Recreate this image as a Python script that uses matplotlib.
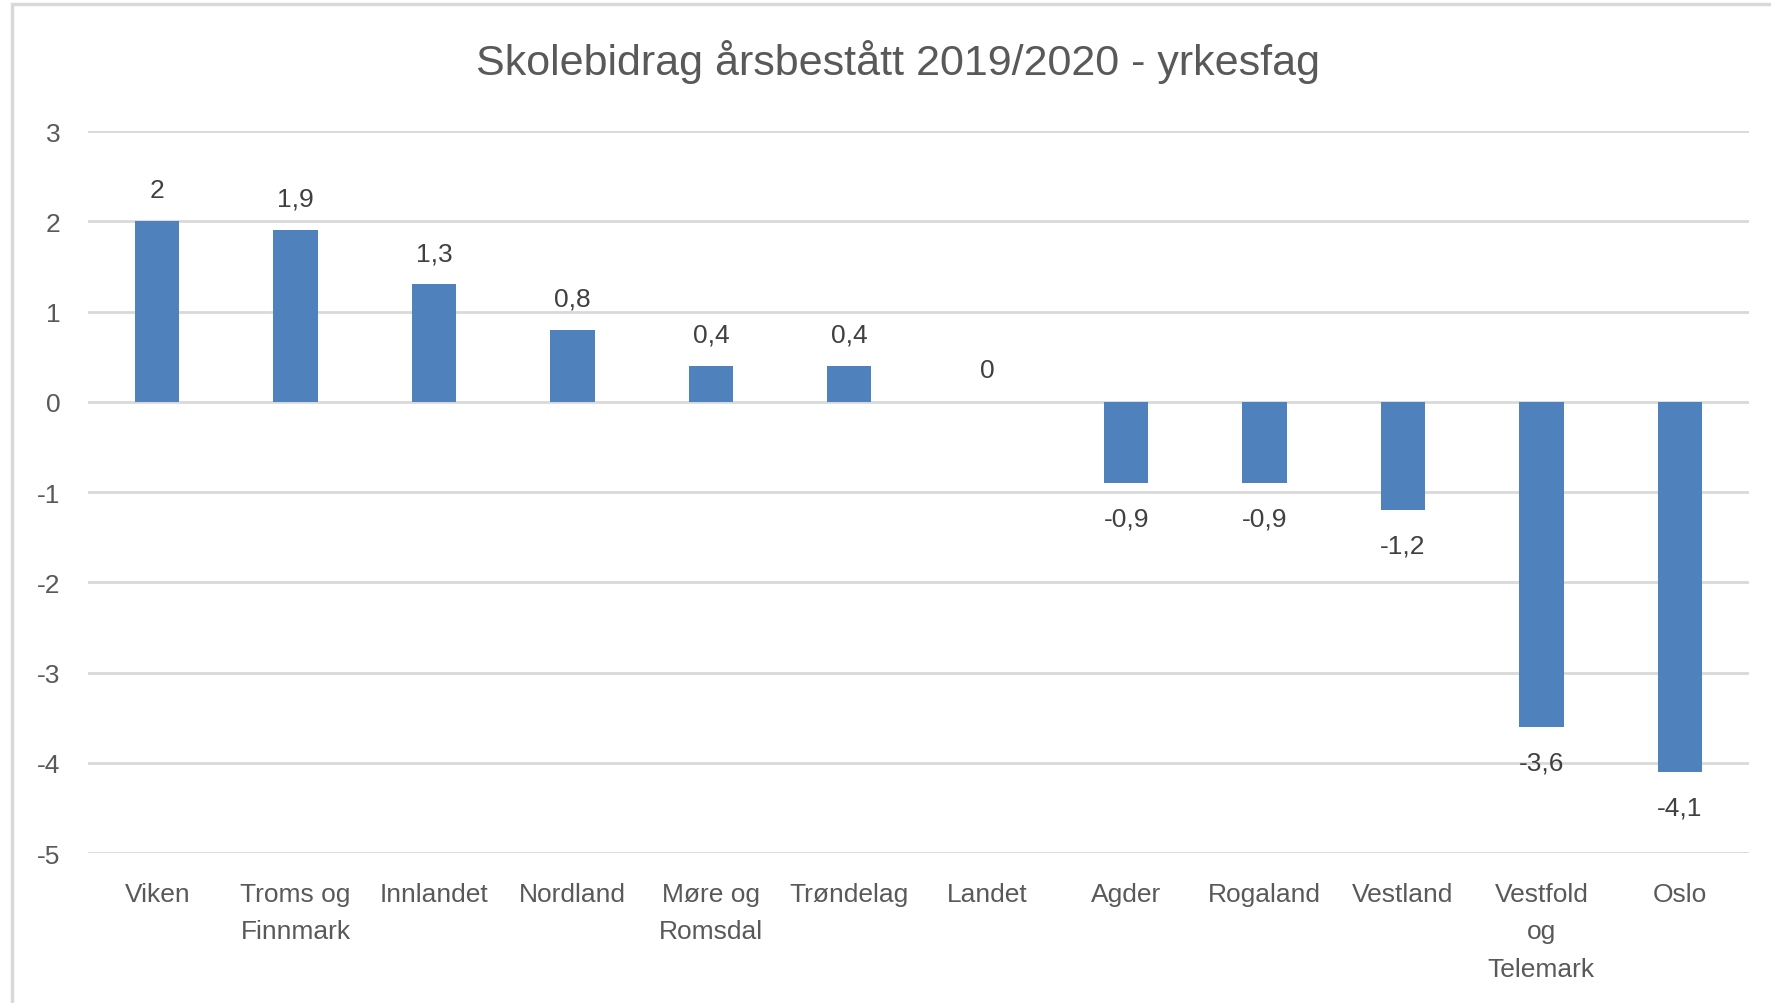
import matplotlib.pyplot as plt
from matplotlib.patches import Rectangle

plt.rcParams['font.family'] = ['Liberation Sans', 'DejaVu Sans']

regions = ['Viken', 'Troms og\nFinnmark', 'Innlandet', 'Nordland', 'Møre og\nRomsdal',
           'Trøndelag', 'Landet', 'Agder', 'Rogaland', 'Vestland', 'Vestfold\nog\nTelemark', 'Oslo']
values = [2, 1.9, 1.3, 0.8, 0.4, 0.4, 0, -0.9, -0.9, -1.2, -3.6, -4.1]
yticks = [3, 2, 1, 0, -1, -2, -3, -4, -5]

fig = plt.figure(figsize=(17.71, 10.04), dpi=100)
ax = fig.add_axes([0.0497, 0.1494, 0.9379, 0.7191])

x = range(len(regions))
ax.bar(x, values, width=0.32, color='#4F81BD', zorder=3)

for i, v in enumerate(values):
    lab = ('%g' % v).replace('.', ',')
    if v >= 0:
        ax.annotate(lab, (i, v), xytext=(0, 14), textcoords='offset points',
                    ha='center', va='bottom', fontsize=19, color='#404040')
    else:
        ax.annotate(lab, (i, v), xytext=(0, -17), textcoords='offset points',
                    ha='center', va='top', fontsize=19, color='#404040')

ax.set_xlim(-0.5, len(regions) - 0.5)
ax.set_ylim(-5, 3)
ax.set_yticks(yticks)
ax.set_yticklabels([str(t) for t in yticks])
ax.set_xticks(list(x))
ax.set_xticklabels(regions, linespacing=1.7, va='top')
ax.tick_params(axis='both', length=0, labelsize=19, labelcolor='#595959')
ax.tick_params(axis='x', pad=21)
ax.tick_params(axis='y', pad=20)
ax.grid(axis='y', color='#D9D9D9', linewidth=2, zorder=0)
for s in ax.spines.values():
    s.set_visible(False)

fig.text(0.507, 0.938, 'Skolebidrag årsbestått 2019/2020 - yrkesfag', ha='center', va='center',
         fontsize=31, color='#595959')

# chart frame (cut off at right and bottom)
fig.patches.append(Rectangle((12 / 1771, -0.1), 1.2, 1.1 - 5 / 1004, transform=fig.transFigure,
                             fill=False, edgecolor='#D9D9D9', linewidth=2.5))

fig.savefig('out.png', dpi=100)
